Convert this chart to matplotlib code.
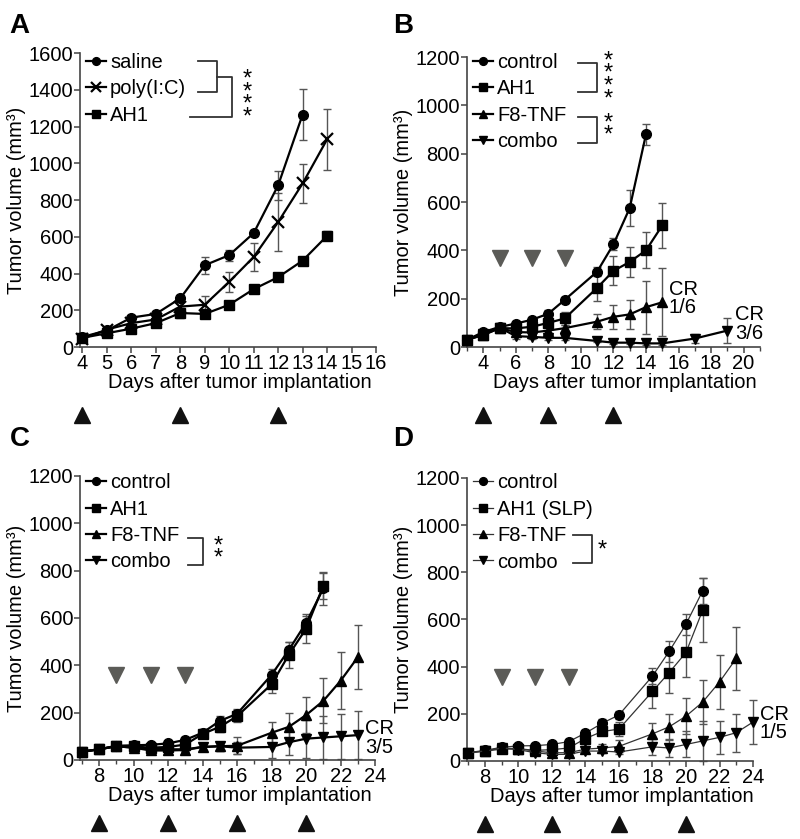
import numpy as np
import matplotlib
matplotlib.use("Agg")
import matplotlib.pyplot as plt
from matplotlib.ticker import MultipleLocator

plt.rcParams["font.family"] = ["Liberation Sans", "DejaVu Sans"]
plt.rcParams["font.size"] = 14.5

# ---------------- panel A ----------------
days_a = [4, 5, 6, 7, 8, 9, 10, 11, 12, 13, 14]
days_a_saline = [4, 5, 6, 7, 8, 9, 10, 11, 12, 13]
saline_a = [55, 90, 160, 180, 265, 445, 500, 620, 880, 1265]
saline_a_err = [10, 10, 15, 15, 20, 45, 30, 15, 80, 140]
polyic_a = [45, 95, 130, 150, 220, 230, 355, 490, 680, 890, 1130]
polyic_a_err = [10, 10, 15, 15, 30, 50, 55, 75, 160, 105, 165]
ah1_a = [50, 75, 100, 130, 185, 180, 230, 315, 380, 470, 605]
ah1_a_err = [10, 10, 10, 10, 25, 15, 15, 20, 20, 15, 25]
a_black = [4, 8, 12]

# ---------------- panel B ----------------
days_b_ctrl = [3, 4, 5, 6, 7, 8, 9, 11, 12, 13, 14]
ctrl_b = [30, 62, 83, 97, 113, 138, 195, 312, 425, 575, 880]
ctrl_b_err = [5, 8, 10, 10, 12, 15, 12, 20, 25, 75, 45]
days_b = [3, 4, 5, 6, 7, 8, 9, 11, 12, 13, 14, 15]
ah1_b = [30, 50, 78, 77, 84, 100, 118, 245, 315, 352, 400, 503]
ah1_b_err = [5, 8, 10, 10, 12, 15, 28, 55, 60, 62, 75, 92]
f8_b = [30, 50, 78, 62, 60, 68, 78, 105, 125, 135, 165, 185]
f8_b_err = [5, 8, 10, 10, 10, 12, 15, 30, 50, 60, 110, 140]
days_b_combo = [3, 4, 5, 6, 7, 8, 9, 11, 12, 13, 14, 15, 17, 19]
combo_b = [30, 55, 80, 45, 42, 38, 38, 25, 18, 18, 15, 15, 35, 68]
combo_b_err = [5, 8, 10, 10, 10, 8, 8, 5, 5, 5, 5, 5, 20, 50]
b_black = [4, 8, 12]
b_gray = [5, 7, 9]

# ---------------- panel C ----------------
days_c_ctrl = [7, 8, 9, 10, 11, 12, 13, 14, 15, 16, 18, 19, 20, 21]
ctrl_c = [35, 45, 60, 62, 64, 70, 85, 115, 165, 195, 360, 465, 580, 725]
ctrl_c_err = [5, 6, 8, 8, 8, 10, 12, 15, 20, 20, 25, 35, 30, 70]
ah1_c = [35, 45, 58, 57, 52, 55, 65, 110, 140, 185, 320, 445, 555, 737]
ah1_c_err = [5, 6, 8, 8, 8, 10, 12, 15, 20, 25, 35, 55, 60, 55]
days_c = [7, 8, 9, 10, 11, 12, 13, 14, 15, 16, 18, 19, 20, 21, 22, 23]
f8_c = [35, 45, 58, 52, 40, 40, 42, 55, 58, 60, 115, 140, 190, 250, 335, 435]
f8_c_err = [5, 6, 8, 8, 8, 8, 10, 15, 20, 35, 45, 60, 75, 95, 120, 135]
combo_c = [35, 45, 58, 52, 48, 45, 45, 55, 58, 52, 55, 75, 90, 95, 100, 105]
combo_c_err = [5, 6, 8, 8, 8, 8, 8, 15, 20, 25, 45, 55, 80, 90, 95, 100]
c_black = [8, 12, 16, 20]
c_gray = [9, 11, 13]

# ---------------- panel D ----------------
days_d_ctrl = [7, 8, 9, 10, 11, 12, 13, 14, 15, 16, 18, 19, 20, 21]
ctrl_d = [35, 45, 58, 64, 65, 70, 82, 118, 160, 195, 360, 465, 580, 722]
ctrl_d_err = [5, 6, 8, 8, 8, 10, 10, 12, 20, 15, 35, 45, 45, 55]
ah1_d = [35, 42, 50, 52, 45, 48, 55, 95, 125, 135, 295, 375, 460, 640]
ah1_d_err = [5, 6, 8, 8, 8, 10, 10, 12, 15, 30, 70, 85, 105, 135]
days_d_f8 = [7, 8, 9, 10, 11, 12, 13, 14, 15, 16, 18, 19, 20, 21, 22, 23]
f8_d = [35, 42, 55, 52, 42, 35, 35, 50, 55, 62, 115, 145, 190, 250, 335, 435]
f8_d_err = [5, 6, 8, 8, 8, 8, 8, 12, 15, 25, 45, 55, 75, 95, 115, 135]
days_d_combo = [7, 8, 9, 10, 11, 12, 13, 14, 15, 16, 18, 19, 20, 21, 22, 23, 24]
combo_d = [35, 42, 55, 48, 35, 28, 28, 42, 42, 38, 60, 55, 70, 85, 100, 120, 165]
combo_d_err = [5, 6, 8, 8, 8, 8, 8, 10, 10, 10, 35, 40, 55, 85, 70, 80, 95]
d_black = [8, 12, 16, 20]
d_gray = [9, 11, 13]

gray_y = {"B": 370, "C": 360, "D": 355}

AXIS_COLOR = "#444444"
ERR_COLOR = "#555555"


def draw_series(ax, days, values, errors, marker, label, lw=1.6, color="black", ms=7):
    ax.errorbar(days, values, yerr=errors, fmt="none", ecolor=ERR_COLOR,
                elinewidth=1.0, capsize=3, capthick=1.0, clip_on=False, zorder=2)
    mew = 1.6 if marker == "x" else 1.0
    msize = 9 if marker == "x" else ms
    ax.plot(days, values, color=color, lw=lw, marker=marker, ms=msize,
            mfc="black", mec="black", mew=mew, label=label, clip_on=False, zorder=3)


def style_axes(ax, xlim, ymax, xmajor, xminor):
    ax.set_xlim(*xlim)
    ax.set_ylim(0, ymax)
    for s in ["top", "right"]:
        ax.spines[s].set_visible(False)
    for s in ["left", "bottom"]:
        ax.spines[s].set_color(AXIS_COLOR)
        ax.spines[s].set_linewidth(1.2)
    ax.xaxis.set_major_locator(MultipleLocator(xmajor))
    if xminor:
        ax.xaxis.set_minor_locator(MultipleLocator(xminor))
    ax.yaxis.set_major_locator(MultipleLocator(200))
    ax.tick_params(axis="both", which="major", direction="out", length=4, width=1.1,
                   color=AXIS_COLOR, pad=1)
    ax.tick_params(axis="x", which="minor", direction="out", length=3, width=1.0,
                   color=AXIS_COLOR)
    ax.set_ylabel("Tumor volume (mm³)", labelpad=2)
    ax.set_xlabel("Days after tumor implantation", labelpad=0)
    ax.xaxis.label.set_x(0.54)


def add_legend(ax, top):
    ax.legend(loc="upper left", bbox_to_anchor=(0.02, top), frameon=False,
              handlelength=1.0, handletextpad=0.2, labelspacing=0.37,
              borderpad=0, borderaxespad=0, markerscale=0.8)


def bracket(ax, x0, x1, y0, y1):
    ax.plot([x0, x1, x1, x0], [y0, y0, y1, y1], color="#333333", lw=1.3,
            transform=ax.transAxes, clip_on=False)


def stars(ax, x, y, n):
    ax.text(x, y, "\n".join(["*"] * n), transform=ax.transAxes, ha="center",
            va="center", linespacing=0.45, fontsize=17)


def treatment_marks(ax, black_days, ypos, gray_days=None, gray_val=None):
    trans = ax.get_xaxis_transform()
    ax.plot(black_days, [ypos] * len(black_days), ls="none", marker="^", ms=11,
            color="#111111", transform=trans, clip_on=False)
    if gray_days:
        ax.plot(gray_days, [gray_val] * len(gray_days), ls="none", marker="v", ms=12,
                color="#5b5b57", clip_on=False)


fig = plt.figure(figsize=(8, 8.39), dpi=100)

# ---- A ----
ax_a = fig.add_axes([0.100, 0.5864, 0.370, 0.3504])
draw_series(ax_a, days_a_saline, saline_a, saline_a_err, "o", "saline")
draw_series(ax_a, days_a, polyic_a, polyic_a_err, "x", "poly(I:C)")
draw_series(ax_a, days_a, ah1_a, ah1_a_err, "s", "AH1")
style_axes(ax_a, (3.9, 16), 1600, 1, None)
add_legend(ax_a, 1.0)
bracket(ax_a, 0.399, 0.463, 0.973, 0.867)
ax_a.plot([0.463, 0.514, 0.514, 0.372], [0.92, 0.92, 0.782, 0.782], color="#333333",
          lw=1.3, transform=ax_a.transAxes, clip_on=False)
stars(ax_a, 0.566, 0.845, 4)
treatment_marks(ax_a, a_black, -0.232)

# ---- B ----
ax_b = fig.add_axes([0.5838, 0.5864, 0.366, 0.3456])
draw_series(ax_b, days_b_ctrl, ctrl_b, ctrl_b_err, "o", "control")
draw_series(ax_b, days_b, ah1_b, ah1_b_err, "s", "AH1")
draw_series(ax_b, days_b, f8_b, f8_b_err, "^", "F8-TNF")
draw_series(ax_b, days_b_combo, combo_b, combo_b_err, "v", "combo")
style_axes(ax_b, (3, 21), 1200, 2, 1)
add_legend(ax_b, 1.014)
bracket(ax_b, 0.379, 0.444, 0.979, 0.879)
bracket(ax_b, 0.379, 0.444, 0.793, 0.703)
stars(ax_b, 0.482, 0.92, 4)
stars(ax_b, 0.482, 0.75, 2)
ax_b.text(15.4, 200, "CR\n1/6", ha="left", va="center", linespacing=0.95)
ax_b.text(19.5, 95, "CR\n3/6", ha="left", va="center", linespacing=0.95)
treatment_marks(ax_b, b_black, -0.235, b_gray, gray_y["B"])

# ---- C ----
ax_c = fig.add_axes([0.100, 0.0942, 0.369, 0.3385])
draw_series(ax_c, days_c_ctrl, ctrl_c, ctrl_c_err, "o", "control")
draw_series(ax_c, days_c_ctrl, ah1_c, ah1_c_err, "s", "AH1")
draw_series(ax_c, days_c, f8_c, f8_c_err, "^", "F8-TNF")
draw_series(ax_c, days_c, combo_c, combo_c_err, "v", "combo")
style_axes(ax_c, (6.9, 24), 1200, 2, 1)
add_legend(ax_c, 1.01)
bracket(ax_c, 0.366, 0.417, 0.782, 0.687)
stars(ax_c, 0.468, 0.73, 2)
ax_c.text(23.4, 93, "CR\n3/5", ha="left", va="center", linespacing=0.95)
treatment_marks(ax_c, c_black, -0.222, c_gray, gray_y["C"])

# ---- D ----
ax_d = fig.add_axes([0.5838, 0.093, 0.3575, 0.3373])
draw_series(ax_d, days_d_ctrl, ctrl_d, ctrl_d_err, "o", "control", lw=0.9, color="#333333")
draw_series(ax_d, days_d_ctrl, ah1_d, ah1_d_err, "s", "AH1 (SLP)", lw=0.9, color="#333333")
draw_series(ax_d, days_d_f8, f8_d, f8_d_err, "^", "F8-TNF", lw=0.9, color="#333333")
draw_series(ax_d, days_d_combo, combo_d, combo_d_err, "v", "combo", lw=0.9, color="#333333")
style_axes(ax_d, (6.94, 24), 1200, 2, 1)
add_legend(ax_d, 1.017)
bracket(ax_d, 0.371, 0.437, 0.80, 0.70)
stars(ax_d, 0.474, 0.745, 1)
ax_d.text(24.4, 160, "CR\n1/5", ha="left", va="center", linespacing=0.95)
treatment_marks(ax_d, d_black, -0.223, d_gray, gray_y["D"])

# panel letters
for x, y, letter in [(0.012, 0.985, "A"), (0.491, 0.985, "B"),
                     (0.012, 0.492, "C"), (0.491, 0.492, "D")]:
    fig.text(x, y, letter, fontsize=20, fontweight="bold", va="top", ha="left")

fig.savefig("out.png", dpi=100)
